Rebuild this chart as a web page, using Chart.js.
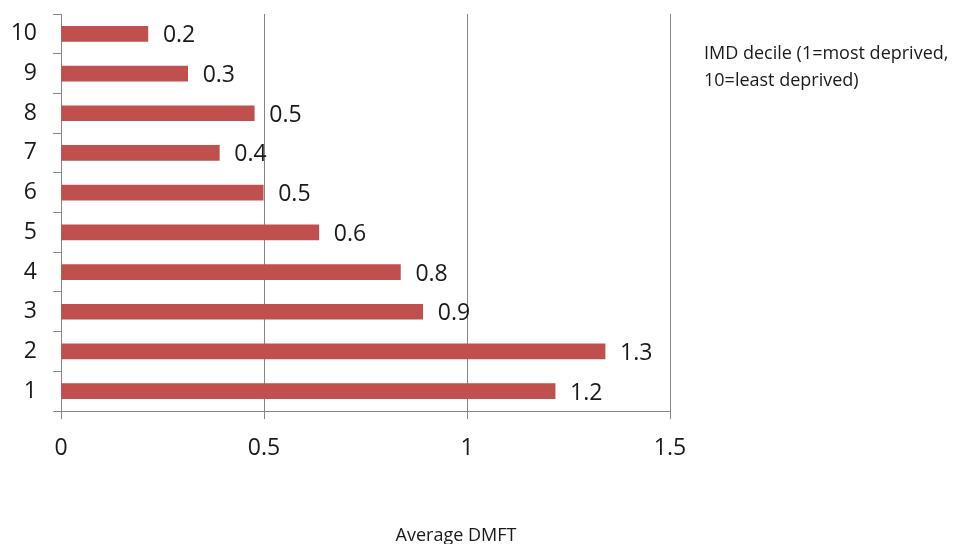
<!DOCTYPE html>
<html>
<head>
<meta charset="utf-8">
<script src="https://cdn.jsdelivr.net/npm/chart.js@4"></script>
<style>
  html, body { margin: 0; padding: 0; background: #fff; }
  #wrap { width: 962px; height: 544px; }
</style>
</head>
<body>
<div id="wrap"><canvas id="c" width="962" height="544"></canvas></div>
<script>
// ── Data ───────────────────────────────────────────────────────────
const deciles   = ['1', '2', '3', '4', '5', '6', '7', '8', '9', '10'];
const dmftAvg   = [1.217, 1.340, 0.891, 0.836, 0.635, 0.498, 0.390, 0.476, 0.312, 0.214];
const xTicks    = [0, 0.5, 1, 1.5];
const xTitle    = 'Average DMFT';
const noteLines = ['IMD decile (1=most deprived,', '10=least deprived)'];

const FONT = '"Open Sans", sans-serif';
const GRID = '#868686';
const BAR  = '#C0504D';
const INK  = '#1a1a1a';

// value labels to the right of each bar end
const valueLabels = {
  id: 'valueLabels',
  afterDatasetsDraw(chart) {
    const { ctx } = chart;
    const meta = chart.getDatasetMeta(0);
    ctx.save();
    ctx.font = '23px ' + FONT;
    ctx.fillStyle = INK;
    ctx.textAlign = 'left';
    ctx.textBaseline = 'middle';
    meta.data.forEach((bar, i) => {
      ctx.fillText(dmftAvg[i].toFixed(1), bar.x + 15, bar.y + 2);
    });
    ctx.restore();
  },
};

// axis title + side note
const extraText = {
  id: 'extraText',
  afterDraw(chart) {
    const { ctx } = chart;
    ctx.save();
    ctx.fillStyle = INK;
    ctx.font = '18px ' + FONT;
    ctx.textAlign = 'center';
    ctx.textBaseline = 'alphabetic';
    ctx.fillText(xTitle, 456, 541);
    ctx.textAlign = 'left';
    noteLines.forEach((l, i) => ctx.fillText(l, 704, 59 + i * 27));
    ctx.restore();
  },
};

new Chart(document.getElementById('c').getContext('2d'), {
  type: 'bar',
  data: {
    labels: deciles,
    datasets: [{
      data: dmftAvg,
      backgroundColor: BAR,
      borderWidth: 0,
      barThickness: 15,
    }],
  },
  options: {
    indexAxis: 'y',
    responsive: false,
    animation: false,
    layout: { padding: { top: 14, right: 292, bottom: 0, left: 0 } },
    plugins: { legend: { display: false }, tooltip: { enabled: false } },
    scales: {
      y: {
        reverse: true,
        afterFit: s => { s.width = 61; s.paddingTop = 0; s.paddingBottom = 0; },
        grid: { drawOnChartArea: false, drawTicks: true, tickLength: 8, color: GRID, offset: true },
        border: { color: GRID, width: 1 },
        ticks: { color: INK, font: { family: FONT, size: 23 }, padding: 16 },
      },
      x: {
        min: 0,
        max: 1.5,
        afterFit: s => { s.height = 133; },
        afterBuildTicks: s => { s.ticks = xTicks.map(v => ({ value: v })); },
        grid: { color: GRID, tickLength: 8, lineWidth: 1 },
        border: { color: GRID, width: 1 },
        ticks: { color: INK, font: { family: FONT, size: 23 }, padding: 16, callback: v => String(v) },
      },
    },
  },
  plugins: [valueLabels, extraText],
});
</script>
</body>
</html>
